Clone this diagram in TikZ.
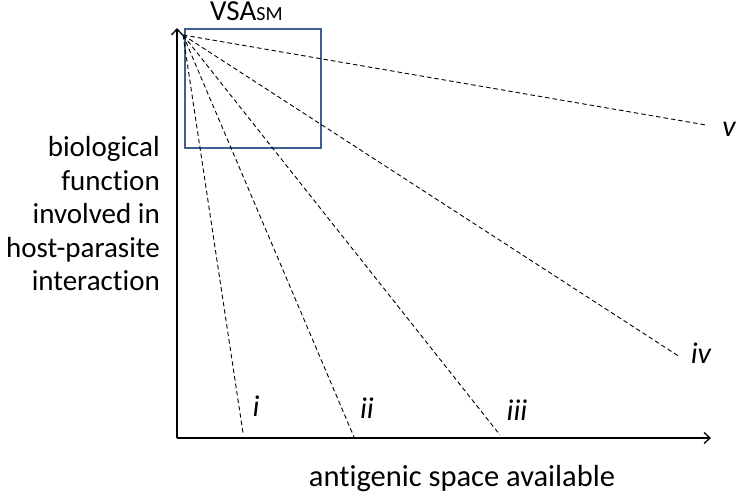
\documentclass[tikz,border=0pt]{standalone}
\usepackage{fontspec}
\setmainfont{Carlito}[Ligatures=NoCommon]
\usetikzlibrary{arrows.meta}
\definecolor{boxblue}{RGB}{62,96,145}
\begin{document}
\begin{tikzpicture}[x=1pt,y=-1pt,
  axis/.style={line width=1.3pt,-{Straight Barb[length=6pt,width=11pt]}},
  ray/.style={line width=0.9pt,dash pattern=on 4.5pt off 3pt},
  lbl/.style={font=\fontsize{30.5}{33.5}\selectfont},
  ylbl/.style={font=\fontsize{29}{33.5}\selectfont},
  num/.style={font=\fontsize{30}{33}\selectfont\itshape,inner sep=0pt}]
\useasboundingbox (0,0) rectangle (740,494);
% axes
\coordinate (O) at (177,438);
\coordinate (ytop) at (177,28);
\coordinate (xend) at (711,438);
\draw[axis] (O) -- (ytop);
\draw[axis] (O) -- (xend);
% box
\node[draw=boxblue,line width=2pt,minimum width=136pt,minimum height=119pt,inner sep=0pt] (box) at (252.5,89) {};
\node[inner sep=0pt,anchor=base west] (vsa) at (210,21) {\fontsize{29}{33}\selectfont VSA\fontsize{20}{22}\selectfont SM};
% rays
\coordinate (src) at (183,35);
\coordinate (e1) at (243,433);
\coordinate (e2) at (354,437);
\coordinate (e3) at (500,435);
\coordinate (e4) at (680,357);
\coordinate (e5) at (706,125);
\foreach \e in {e1,e2,e3,e4,e5} \draw[ray] (src) -- (\e);
% labels
\node[num] (li) at (256,406) {i};
\node[num] (lii) at (367,408) {ii};
\node[num] (liii) at (517,410) {iii};
\node[num] (liv) at (701,353) {iv};
\node[num] (lv) at (729,129) {v};
\node[ylbl,align=right,anchor=east,inner sep=0pt] (ylab) at (160,214) {biological\\function\\involved in\\host-parasite\\interaction};
\node[lbl] (xlab) at (462,479) {antigenic space available};
\end{tikzpicture}
\end{document}
